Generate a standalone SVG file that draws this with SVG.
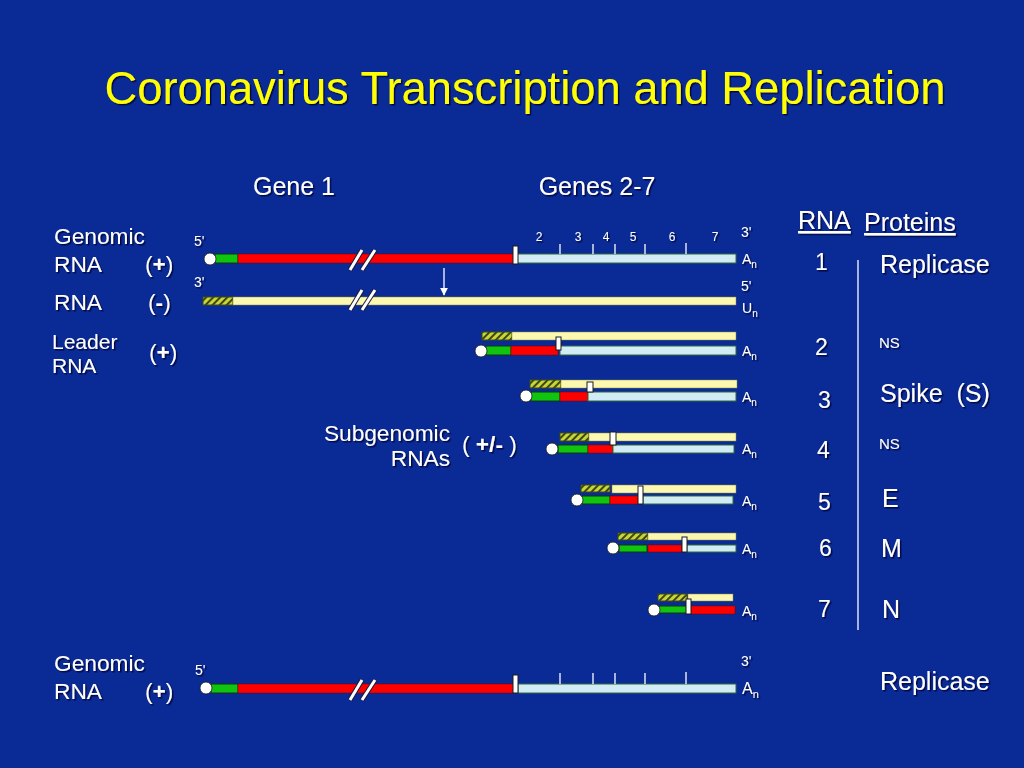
<svg xmlns="http://www.w3.org/2000/svg" width="1024" height="768" viewBox="0 0 1024 768">
<defs>
<pattern id="hatch" patternUnits="userSpaceOnUse" width="5" height="5" patternTransform="rotate(45)">
<rect width="5" height="5" fill="#c9d43a"/>
<rect width="2" height="5" fill="#3c4a10"/>
</pattern>
<filter id="sh" x="-10%" y="-10%" width="130%" height="140%">
<feDropShadow dx="1.5" dy="1.5" stdDeviation="0.6" flood-color="#000033" flood-opacity="0.8"/>
</filter>
<marker id="ah" viewBox="0 0 10 10" refX="9" refY="5" markerWidth="8" markerHeight="8" markerUnits="userSpaceOnUse" orient="auto">
<path d="M0,0 L10,5 L0,10 z" fill="#ffffff"/>
</marker>
</defs>
<style>
text{font-family:"Liberation Sans",Arial,sans-serif;fill:#ffffff}
.t{filter:url(#sh)}
.lab{font-size:22.7px}
.num{font-size:12px}
.end{font-size:14px}
.big{font-size:25px}
.red{fill:#ff0000;stroke:#7a0000;stroke-width:0.5}
.grn{fill:#10c410;stroke:#0a3a0a;stroke-width:1}
.blu{fill:#d2ecf6;stroke:#2f6a3a;stroke-width:1}
.yel{fill:#fcf8b0;stroke:#8a8a40;stroke-width:0.5}
.hat{fill:url(#hatch);stroke:#3c4a10;stroke-width:1}
.mk{fill:#ffffff;stroke:#1a1a1a;stroke-width:1}
.cap{fill:#ffffff;stroke:#1a1a1a;stroke-width:0.8}
.tick{stroke:#ffffff;stroke-width:1.3}
.brk1{stroke:#1a1a3a;stroke-width:5}
.brk2{stroke:#ffffff;stroke-width:3}
</style>
<rect width="1024" height="768" fill="#0a2a96"/>

<text x="525" y="104" text-anchor="middle" style="font-size:45.3px;fill:#ffff00" class="t">Coronavirus Transcription and Replication</text>
<text x="294" y="195" text-anchor="middle" class="big t">Gene 1</text>
<text x="597" y="195" text-anchor="middle" class="big t">Genes 2-7</text>

<g id="left-labels" class="lab">
<text x="54" y="244" class="t">Genomic</text>
<text x="54" y="272" class="t">RNA</text>
<text x="145" y="272" class="t">(<tspan font-weight="bold">+</tspan>)</text>
<text x="54" y="310" class="t">RNA</text>
<text x="148" y="310" class="t">(<tspan font-weight="bold">-</tspan>)</text>
<text x="52" y="349" class="t" style="font-size:21px">Leader</text>
<text x="52" y="373" class="t" style="font-size:21px">RNA</text>
<text x="149" y="360" class="t">(<tspan font-weight="bold">+</tspan>)</text>
<text x="450" y="441" text-anchor="end" class="t">Subgenomic</text>
<text x="450" y="466" text-anchor="end" class="t">RNAs</text>
<text x="462" y="452" class="t">( <tspan font-weight="bold">+/-</tspan> )</text>
<text x="54" y="671" class="t">Genomic</text>
<text x="54" y="699" class="t">RNA</text>
<text x="145" y="699" class="t">(<tspan font-weight="bold">+</tspan>)</text>
</g>

<g id="genomic-plus">
<text x="194" y="246" class="end t">5'</text>
<rect x="215" y="254" width="23" height="9" class="grn"/>
<rect x="238" y="254" width="276" height="9" class="red"/>
<rect x="517" y="254" width="219" height="9" class="blu"/>
<rect x="513" y="246" width="5" height="18" class="mk"/>
<circle cx="210" cy="259" r="6" class="cap"/>
<line x1="350" y1="270" x2="362" y2="250" class="brk1"/><line x1="350" y1="270" x2="362" y2="250" class="brk2"/>
<line x1="362" y1="270" x2="375" y2="250" class="brk1"/><line x1="362" y1="270" x2="375" y2="250" class="brk2"/>
<line x1="560" y1="244" x2="560" y2="254" class="tick"/>
<line x1="593" y1="244" x2="593" y2="254" class="tick"/>
<line x1="615" y1="244" x2="615" y2="254" class="tick"/>
<line x1="645" y1="244" x2="645" y2="254" class="tick"/>
<line x1="686" y1="243" x2="686" y2="254" class="tick"/>
<text x="539" y="241" text-anchor="middle" class="num t">2</text>
<text x="578" y="241" text-anchor="middle" class="num t">3</text>
<text x="606" y="241" text-anchor="middle" class="num t">4</text>
<text x="633" y="241" text-anchor="middle" class="num t">5</text>
<text x="672" y="241" text-anchor="middle" class="num t">6</text>
<text x="715" y="241" text-anchor="middle" class="num t">7</text>
<text x="741" y="237" class="end t">3'</text>
<text x="742" y="264" class="end t">A<tspan font-size="10" dy="4">n</tspan></text>
</g>

<g id="genomic-minus">
<text x="194" y="287" class="end t">3'</text>
<rect x="203" y="297" width="30" height="8" class="hat"/>
<rect x="233" y="297" width="503" height="8" class="yel"/>
<line x1="350" y1="310" x2="362" y2="290" class="brk1"/><line x1="350" y1="310" x2="362" y2="290" class="brk2"/>
<line x1="362" y1="310" x2="375" y2="290" class="brk1"/><line x1="362" y1="310" x2="375" y2="290" class="brk2"/>
<text x="741" y="291" class="end t">5'</text>
<text x="742" y="313" class="end t">U<tspan font-size="10" dy="4">n</tspan></text>
</g>

<g id="connectors">
<line x1="444" y1="268" x2="444" y2="295" stroke="#ffffff" stroke-width="1.3" marker-end="url(#ah)"/>
<line x1="858" y1="260" x2="858" y2="630" stroke="#ffffff" stroke-width="1.3"/>
</g>

<g id="leader">
<rect x="482" y="332" width="30" height="8" class="hat"/>
<rect x="512" y="332" width="224" height="8" class="yel"/>
<rect x="486" y="346" width="25" height="9" class="grn"/>
<rect x="511" y="346" width="47" height="9" class="red"/>
<rect x="560" y="346" width="176" height="9" class="blu"/>
<rect x="556" y="337" width="5" height="13" class="mk"/>
<circle cx="481" cy="351" r="6" class="cap"/>
<text x="742" y="356" class="end t">A<tspan font-size="10" dy="4">n</tspan></text>
</g>

<g id="sg3">
<rect x="530" y="380" width="31" height="8" class="hat"/>
<rect x="561" y="380" width="176" height="8" class="yel"/>
<rect x="531" y="392" width="29" height="9" class="grn"/>
<rect x="560" y="392" width="28" height="9" class="red"/>
<rect x="588" y="392" width="148" height="9" class="blu"/>
<rect x="587" y="382" width="6" height="10" class="mk"/>
<circle cx="526" cy="396" r="6" class="cap"/>
<text x="742" y="402" class="end t">A<tspan font-size="10" dy="4">n</tspan></text>
</g>

<g id="sg4">
<rect x="560" y="433" width="29" height="8" class="hat"/>
<rect x="589" y="433" width="147" height="8" class="yel"/>
<rect x="558" y="445" width="30" height="8" class="grn"/>
<rect x="588" y="445" width="25" height="8" class="red"/>
<rect x="613" y="445" width="121" height="8" class="blu"/>
<rect x="610" y="432" width="6" height="13" class="mk"/>
<circle cx="552" cy="449" r="6" class="cap"/>
<text x="742" y="454" class="end t">A<tspan font-size="10" dy="4">n</tspan></text>
</g>

<g id="sg5">
<rect x="581" y="485" width="29" height="7" class="hat"/>
<rect x="612" y="485" width="124" height="8" class="yel"/>
<rect x="582" y="496" width="28" height="8" class="grn"/>
<rect x="610" y="496" width="29" height="8" class="red"/>
<rect x="643" y="496" width="90" height="8" class="blu"/>
<rect x="638" y="486" width="5" height="18" class="mk"/>
<circle cx="577" cy="500" r="6" class="cap"/>
<text x="742" y="506" class="end t">A<tspan font-size="10" dy="4">n</tspan></text>
</g>

<g id="sg6">
<rect x="618" y="533" width="30" height="7" class="hat"/>
<rect x="648" y="533" width="88" height="7" class="yel"/>
<rect x="619" y="545" width="28" height="7" class="grn"/>
<rect x="648" y="545" width="34" height="7" class="red"/>
<rect x="687" y="545" width="49" height="7" class="blu"/>
<rect x="682" y="537" width="5" height="15" class="mk"/>
<circle cx="613" cy="548" r="6" class="cap"/>
<text x="742" y="554" class="end t">A<tspan font-size="10" dy="4">n</tspan></text>
</g>

<g id="sg7">
<rect x="658" y="594" width="29" height="7" class="hat"/>
<rect x="688" y="594" width="45" height="7" class="yel"/>
<rect x="659" y="606" width="28" height="7" class="grn"/>
<rect x="690" y="606" width="45" height="8" class="red"/>
<rect x="686" y="599" width="5" height="15" class="mk"/>
<circle cx="654" cy="610" r="6" class="cap"/>
<text x="742" y="616" class="end t">A<tspan font-size="10" dy="4">n</tspan></text>
</g>

<g id="genomic-bottom">
<text x="195" y="675" class="end t">5'</text>
<rect x="211" y="684" width="27" height="9" class="grn"/>
<rect x="238" y="684" width="276" height="9" class="red"/>
<rect x="518" y="684" width="218" height="9" class="blu"/>
<rect x="513" y="675" width="5" height="18" class="mk"/>
<circle cx="206" cy="688" r="6" class="cap"/>
<line x1="350" y1="700" x2="362" y2="680" class="brk1"/><line x1="350" y1="700" x2="362" y2="680" class="brk2"/>
<line x1="362" y1="700" x2="375" y2="680" class="brk1"/><line x1="362" y1="700" x2="375" y2="680" class="brk2"/>
<line x1="560" y1="673" x2="560" y2="684" class="tick"/>
<line x1="593" y1="673" x2="593" y2="684" class="tick"/>
<line x1="615" y1="673" x2="615" y2="684" class="tick"/>
<line x1="645" y1="673" x2="645" y2="684" class="tick"/>
<line x1="686" y1="672" x2="686" y2="684" class="tick"/>
<text x="741" y="666" class="end t">3'</text>
<text x="742" y="694" class="end t" style="font-size:16px">A<tspan font-size="11" dy="4">n</tspan></text>
</g>

<g id="table" class="big">
<text x="798" y="229" class="t" text-decoration="underline">RNA</text>
<text x="864" y="231" class="t" text-decoration="underline">Proteins</text>
<text x="815" y="270" class="t" style="font-size:23px">1</text>
<text x="815" y="355" class="t" style="font-size:23px">2</text>
<text x="818" y="408" class="t" style="font-size:23px">3</text>
<text x="817" y="458" class="t" style="font-size:23px">4</text>
<text x="818" y="510" class="t" style="font-size:23px">5</text>
<text x="819" y="556" class="t" style="font-size:23px">6</text>
<text x="818" y="617" class="t" style="font-size:23px">7</text>
<text x="880" y="273" class="t">Replicase</text>
<text x="879" y="348" class="t" style="font-size:15px">NS</text>
<text x="880" y="402" class="t" style="white-space:pre">Spike  (S)</text>
<text x="879" y="449" class="t" style="font-size:15px">NS</text>
<text x="882" y="507" class="t">E</text>
<text x="881" y="557" class="t">M</text>
<text x="882" y="618" class="t">N</text>
<text x="880" y="690" class="t">Replicase</text>
</g>
</svg>
